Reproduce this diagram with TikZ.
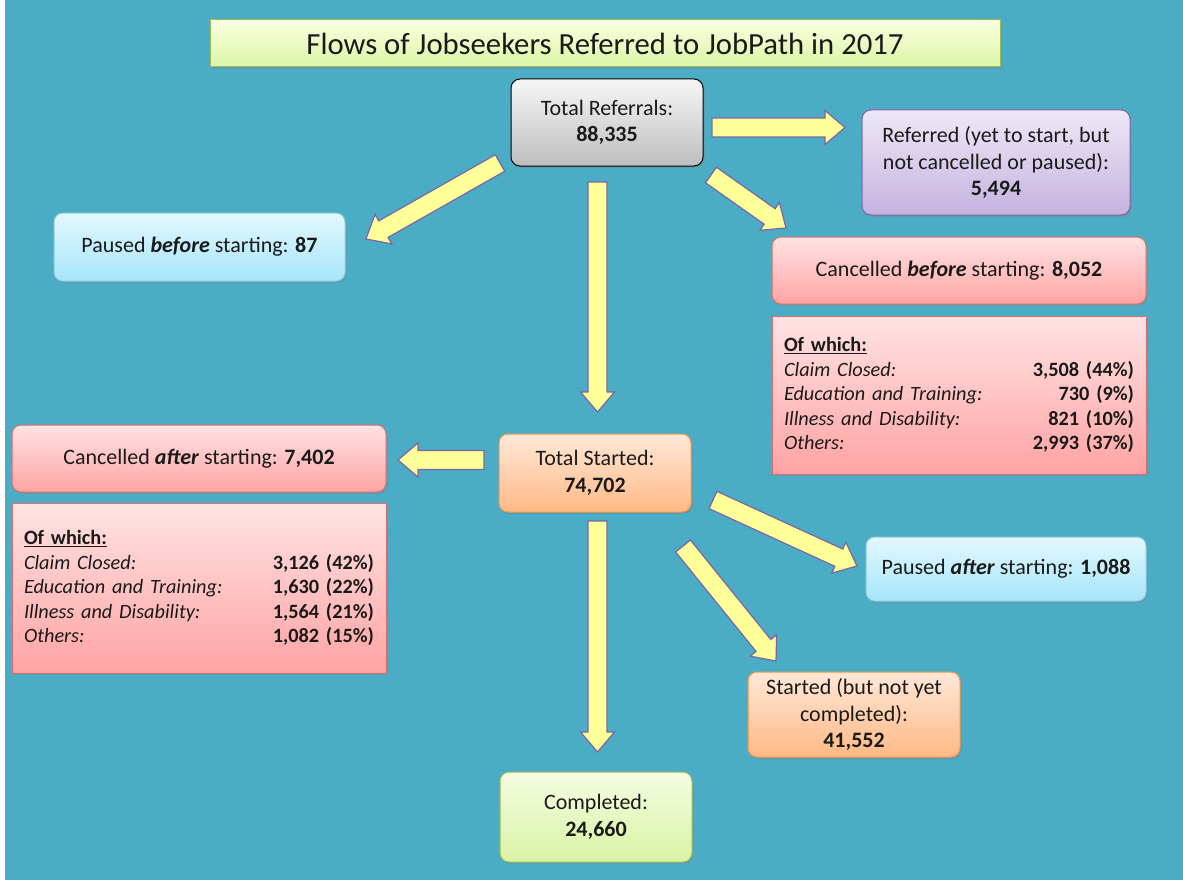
\documentclass[tikz,border=0pt]{standalone}
\usepackage{fontspec}
\setmainfont{Carlito}
\usetikzlibrary{positioning, calc, shadows}

\definecolor{sea}{HTML}{4BACC6}
\definecolor{titletop}{HTML}{F9FFDF}
\definecolor{titlebot}{HTML}{DCF5A6}
\definecolor{titleedge}{HTML}{9BBB59}
\definecolor{greytop}{HTML}{F7F7F7}
\definecolor{greybot}{HTML}{BDBDBD}
\definecolor{purptop}{HTML}{EEE8F6}
\definecolor{purpbot}{HTML}{C5B2DF}
\definecolor{purpedge}{HTML}{8064A2}
\definecolor{bluetop}{HTML}{E3F8FE}
\definecolor{bluebot}{HTML}{A5E5FA}
\definecolor{blueedge}{HTML}{93CDDD}
\definecolor{redtop}{HTML}{FFE3E3}
\definecolor{redbot}{HTML}{FFA3A3}
\definecolor{rededge}{HTML}{D9706D}
\definecolor{orgtop}{HTML}{FFE8D8}
\definecolor{orgbot}{HTML}{FFB985}
\definecolor{orgedge}{HTML}{F79646}
\definecolor{grntop}{HTML}{F5FDE2}
\definecolor{grnbot}{HTML}{D8F3A3}
\definecolor{flowfill}{HTML}{FFFF99}
\definecolor{flowedge}{HTML}{8064A2}
\definecolor{ink}{HTML}{1A1A1A}

\begin{document}
\begin{tikzpicture}[x=1pt, y=-1pt,
    box/.style={rectangle, rounded corners=9pt, line width=1pt, align=center, inner sep=0pt, text=ink,
      font=\fontsize{22}{26.5}\selectfont,
      drop shadow={opacity=0.35, shadow xshift=1.5pt, shadow yshift=-2pt}},
    greybox/.style={box, draw=black, top color=greytop, bottom color=greybot},
    purpbox/.style={box, draw=purpedge, top color=purptop, bottom color=purpbot},
    bluebox/.style={box, draw=blueedge, top color=bluetop, bottom color=bluebot},
    redbox/.style={box, draw=rededge, top color=redtop, bottom color=redbot},
    orgbox/.style={box, draw=orgedge, top color=orgtop, bottom color=orgbot},
    grnbox/.style={box, draw=titleedge, top color=grntop, bottom color=grnbot},
    whichbox/.style={redbox, rounded corners=0pt, minimum width=374pt, text width=350pt, align=left,
      font=\fontsize{20.3}{24.5}\selectfont},
    flow/.style={fill=flowfill, draw=flowedge, line width=1.2pt, line join=miter,
      to path={let \p1=(\tikztostart), \p2=(\tikztotarget),
        \n1={atan2(\y2-\y1,\x2-\x1)}, \n2={veclen(\x2-\x1,\y2-\y1)} in
        ($(\p1)+({\n1+90}:9.5pt)$) -- ($(\p1)+({\n1}:{\n2-20pt})+({\n1+90}:9.5pt)$)
        -- ($(\p1)+({\n1}:{\n2-20pt})+({\n1+90}:17pt)$) -- (\p2)
        -- ($(\p1)+({\n1}:{\n2-20pt})+({\n1-90}:17pt)$)
        -- ($(\p1)+({\n1}:{\n2-20pt})+({\n1-90}:9.5pt)$)
        -- ($(\p1)+({\n1-90}:9.5pt)$) -- cycle}}
  ]
  \useasboundingbox (0,0) rectangle (1183,880);
  \fill[white] (0,0) rectangle (1183,880);
  \fill[sea] (5,0) rectangle (1183,880);

  % title
  \node[rectangle, draw=titleedge, line width=1pt, top color=titletop, bottom color=titlebot,
    minimum width=790pt, minimum height=47pt, text=ink, font=\fontsize{30.7}{34}\selectfont,
    drop shadow={opacity=0.35, shadow xshift=1.5pt, shadow yshift=-2pt}]
    (title) at (605,43.5) {Flows of Jobseekers Referred to JobPath in 2017};

  % referrals and what happened before starting
  \node[greybox, minimum width=192pt, minimum height=87pt] (ref) at (607,122.5)
    {Total Referrals:\\\textbf{88,335}};
  \node[purpbox, minimum width=268pt, minimum height=105pt] (refd) at (996,162.5)
    {Referred (yet to start, but\\not cancelled or paused):\\\textbf{5,494}};
  \node[bluebox, minimum width=291pt, minimum height=68pt] (pausb) at (199.5,247)
    {Paused \textbf{\textit{before}} starting: \textbf{87}};
  \node[redbox, minimum width=374pt, minimum height=67pt] (cancb) at (959,270.5)
    {Cancelled \textbf{\textit{before}} starting: \textbf{8,052}};
  \node[whichbox, minimum height=158pt, below=11pt of cancb] (cancbwhy)
    {\underline{\textbf{Of which:}}\\
     \textit{Claim Closed:}\hfill\textbf{3,508 (44\%)}\\
     \textit{Education and Training:}\hfill\textbf{730 (9\%)}\\
     \textit{Illness and Disability:}\hfill\textbf{821 (10\%)}\\
     \textit{Others:}\hfill\textbf{2,993 (37\%)}};

  % started and what happened after
  \node[orgbox, minimum width=192pt, minimum height=78pt] (start) at (595,473)
    {Total Started:\\\textbf{74,702}};
  \node[redbox, minimum width=374pt, minimum height=67pt] (canca) at (199,458.5)
    {Cancelled \textbf{\textit{after}} starting: \textbf{7,402}};
  \node[whichbox, minimum height=170pt, below=10pt of canca] (cancawhy)
    {\underline{\textbf{Of which:}}\\
     \textit{Claim Closed:}\hfill\textbf{3,126 (42\%)}\\
     \textit{Education and Training:}\hfill\textbf{1,630 (22\%)}\\
     \textit{Illness and Disability:}\hfill\textbf{1,564 (21\%)}\\
     \textit{Others:}\hfill\textbf{1,082 (15\%)}};
  \node[bluebox, minimum width=280pt, minimum height=64pt] (pausa) at (1006,569)
    {Paused \textbf{\textit{after}} starting: \textbf{1,088}};
  \node[orgbox, minimum width=212pt, minimum height=85pt] (notyet) at (854,714.5)
    {Started (but not yet\\completed):\\\textbf{41,552}};
  \node[grnbox, minimum width=192pt, minimum height=90pt] (compl) at (596,817)
    {Completed:\\\textbf{24,660}};

  % arrow ends
  \coordinate (ref-e) at (712,127.5);
  \coordinate (refd-w) at (845,127.5);
  \coordinate (ref-se) at (711,175);
  \coordinate (cancb-nw) at (786,228);
  \coordinate (ref-sw) at (500,163);
  \coordinate (pausb-ne) at (366,239);
  \coordinate (ref-s) at (597.5,182);
  \coordinate (start-n) at (597.5,412);
  \coordinate (start-w) at (484,460);
  \coordinate (canca-e) at (398,460);
  \coordinate (start-e) at (713,500);
  \coordinate (pausa-w) at (857,566);
  \coordinate (start-se) at (683,546);
  \coordinate (notyet-n) at (776,661);
  \coordinate (start-s) at (597.5,521);
  \coordinate (compl-n) at (597.5,752);

  \draw[flow] (ref-e) to (refd-w);
  \draw[flow] (ref-se) to (cancb-nw);
  \draw[flow] (ref-sw) to (pausb-ne);
  \draw[flow] (ref-s) to (start-n);
  \draw[flow] (start-w) to (canca-e);
  \draw[flow] (start-e) to (pausa-w);
  \draw[flow] (start-se) to (notyet-n);
  \draw[flow] (start-s) to (compl-n);
\end{tikzpicture}
\end{document}
